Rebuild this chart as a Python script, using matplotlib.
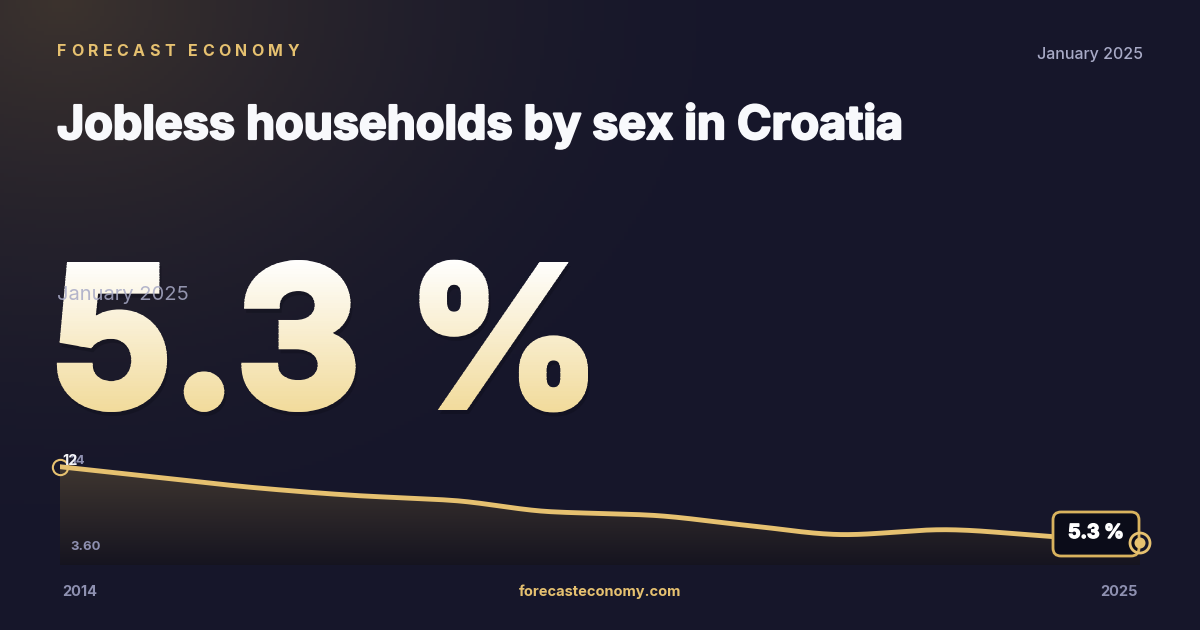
import numpy as np
import matplotlib
matplotlib.use('Agg')
import matplotlib.pyplot as plt
import matplotlib.patheffects as pe
from matplotlib.textpath import TextPath
from matplotlib.font_manager import FontProperties
from matplotlib.patches import PathPatch, FancyBboxPatch, Circle, Rectangle
from matplotlib.transforms import Affine2D

# data
years = [2014, 2015, 2016, 2017, 2018, 2019, 2020, 2021, 2022, 2023, 2024, 2025]
values = [12.0, 11.07, 10.15, 9.48, 9.04, 8.05, 7.75, 6.85, 6.04, 6.47, 5.93, 5.3]
latest = '5.3 %'
latest_label = 'January 2025'
title = 'Jobless households by sex in Croatia'
brand = 'FORECAST ECONOMY'
site = 'forecasteconomy.com'
y_min_label = '3.60'
y_max_label = '14'
first_label = '12'

W, H = 1200, 630
GOLD = '#e6c170'
GREY = '#a8aac6'
FAM = ['Inter', 'DejaVu Sans']

fig = plt.figure(figsize=(12, 6.3), dpi=100)

# background with warm glow top-left
bg = fig.add_axes([0, 0, 1, 1])
bg.set_xlim(0, W)
bg.set_ylim(0, H)
bg.axis('off')
xx, yy = np.meshgrid(np.linspace(0, W, 300), np.linspace(H, 0, 160))
d = np.sqrt((xx - 60) ** 2 + ((H - yy) - 0) ** 2 * 1.6)
glow = np.clip(1 - d / 650, 0, 1) ** 1.6
base = np.array([0.090, 0.090, 0.165])
warm = np.array([0.235, 0.200, 0.180])
img = base[None, None, :] * (1 - glow[..., None]) + warm[None, None, :] * glow[..., None]
bg.imshow(img, extent=[0, W, 0, H], aspect='auto', zorder=0)


def letter_spaced(ax, x, y, s, size, color, spacing):
    r = fig.canvas.get_renderer()
    for ch in s:
        t = ax.text(x, y, ch, fontsize=size, color=color, fontweight='bold',
                    family=FAM, va='center', ha='left', zorder=5)
        bb = t.get_window_extent(renderer=r)
        x += bb.width + spacing


letter_spaced(bg, 57, H - 52, brand, 11.5, GOLD, 4.5)
bg.text(1143, H - 54, latest_label, fontsize=11.5, color=GREY, ha='right', va='center',
        family=FAM, fontweight='medium', zorder=5)
bg.text(57, H - 126, title, fontsize=33.6, color='#f8f9fc', fontweight='bold',
        family=FAM, ha='left', va='center', zorder=5,
        path_effects=[pe.withStroke(linewidth=1.6, foreground='#f8f9fc')])

# big number, emboldened with a stroke, gradient in horizontal bands
fp = FontProperties(family=FAM, weight='bold')
tp = TextPath((0, 0), latest, size=200, prop=fp)
ext = tp.get_extents()
stroke_px = 8.0
tgt_w = 531.0 - stroke_px
tgt_h = 148.0 - stroke_px
cap = TextPath((0, 0), 'H', size=200, prop=fp).get_extents().height
tp = tp.transformed(Affine2D().translate(-ext.x0, 0)
                    .scale(tgt_w / ext.width, tgt_h / cap)
                    .translate(57 + stroke_px / 2, H - 410 + stroke_px / 2))
shadow = PathPatch(tp.transformed(Affine2D().translate(2, -4)), facecolor='#0b0b15',
                   edgecolor='#0b0b15', lw=stroke_px * 0.72, alpha=0.3, zorder=3)
bg.add_patch(shadow)
c_top = np.array([1.0, 1.0, 1.0])
c_bot = np.array([0.945, 0.855, 0.600])
y_hi, y_lo = H - 258, H - 414
nb = 60
edges = np.linspace(y_lo, y_hi, nb + 1)
for i in range(nb):
    f = 1 - (i + 0.5) / nb
    col = c_top * (1 - f) + c_bot * f
    band = Rectangle((20, edges[i] - 0.3), 700, edges[i + 1] - edges[i] + 0.6,
                     transform=bg.transData)
    p = PathPatch(tp, facecolor=col, edgecolor=col, lw=stroke_px * 0.72, zorder=4)
    bg.add_patch(p)
    p.set_clip_path(band)

bg.text(57, H - 295, latest_label, fontsize=14.5, color=GREY, alpha=0.85, ha='left',
        va='center', family=FAM, zorder=6)

# bottom labels
bg.text(62, H - 592, str(years[0]), fontsize=10.5, color='#8e90b0', fontweight='bold',
        family=FAM, ha='left', va='center')
bg.text(1138, H - 592, str(years[-1]), fontsize=10.5, color='#8e90b0', fontweight='bold',
        family=FAM, ha='right', va='center')
bg.text(600, H - 592, site, fontsize=10.5, color=GOLD, fontweight='bold',
        family=FAM, ha='center', va='center')

# chart axes
ax = fig.add_axes([60 / W, (H - 565) / H, 1080 / W, 110 / H])
ax.set_xlim(years[0], years[-1])
ax.set_ylim(3.37, 13.03)
ax.axis('off')
ax.patch.set_alpha(0)
ax.set_zorder(1)

x = np.array(years, dtype=float)
y = np.array(values)


# monotone cubic for the curve shape
def pchip(x, y, n=40):
    h = np.diff(x)
    dl = np.diff(y) / h
    m = np.zeros_like(y)
    m[0], m[-1] = dl[0], dl[-1]
    for i in range(1, len(y) - 1):
        if dl[i - 1] * dl[i] > 0:
            m[i] = 2 / (1 / dl[i - 1] + 1 / dl[i])
    xs, ys = [], []
    for i in range(len(x) - 1):
        t = np.linspace(0, 1, n, endpoint=False)
        h00 = 2 * t ** 3 - 3 * t ** 2 + 1
        h10 = t ** 3 - 2 * t ** 2 + t
        h01 = -2 * t ** 3 + 3 * t ** 2
        h11 = t ** 3 - t ** 2
        xs.append(x[i] + t * h[i])
        ys.append(h00 * y[i] + h10 * h[i] * m[i] + h01 * y[i + 1] + h11 * h[i] * m[i + 1])
    xs.append([x[-1]])
    ys.append([y[-1]])
    return np.concatenate(xs), np.concatenate(ys)


sx, sy = pchip(x, y)
poly = ax.fill_between(sx, sy, 3.37, color='none', lw=0)
fimg = np.linspace(0, 1, 200)[:, None]
ftop = np.array([0.250, 0.215, 0.190])
fbot = np.array([0.085, 0.080, 0.125])
fcol = ftop[None, None, :] * (1 - fimg[..., None]) + fbot[None, None, :] * fimg[..., None]
fcol = np.repeat(fcol, 2, axis=1)
fim = ax.imshow(fcol, extent=[years[0], years[-1], 3.37, 12.2], aspect='auto', zorder=1)
fim.set_clip_path(poly.get_paths()[0], transform=ax.transData)
ax.plot(sx, sy, color=GOLD, lw=3.5, zorder=3, solid_capstyle='round')
ax.plot(x[0], y[0], 'o', ms=11, mfc='none', mec=GOLD, mew=1.5, zorder=4, clip_on=False)

# overlay for labels and the latest value tag
top = fig.add_axes([0, 0, 1, 1])
top.set_xlim(0, W)
top.set_ylim(0, H)
top.axis('off')
top.set_zorder(2)
top.patch.set_alpha(0)

top.text(70, H - 547, y_min_label, fontsize=9.5, color='#8e90b0', fontweight='bold',
         family=FAM, ha='left', va='center', zorder=6)
top.text(70, H - 461, y_max_label, fontsize=9.5, color='#8e90b0', fontweight='bold',
         family=FAM, ha='left', va='center', zorder=6)
top.text(62, H - 461, first_label, fontsize=10.5, color='#f4f4f8', fontweight='bold',
         family=FAM, ha='left', va='center', zorder=7)

box = FancyBboxPatch((1053, H - 556), 86, 44, boxstyle='round,pad=0,rounding_size=8',
                     facecolor='#0b0c19', edgecolor='#d9b35e', lw=2, zorder=5)
top.add_patch(box)
top.text(1096, H - 533, latest, fontsize=14, color='white', fontweight='bold',
         family=FAM, ha='center', va='center', zorder=6,
         path_effects=[pe.withStroke(linewidth=1.0, foreground='white')])
end_px = ax.transData.transform((x[-1], y[-1]))
ex, ey = top.transData.inverted().transform(end_px)
top.add_patch(Circle((ex, ey), 10, facecolor='none', edgecolor=GOLD, lw=2, zorder=8))
top.add_patch(Circle((ex, ey), 5.5, facecolor=GOLD, edgecolor='none', zorder=8))

fig.savefig('out.png', dpi=100)
